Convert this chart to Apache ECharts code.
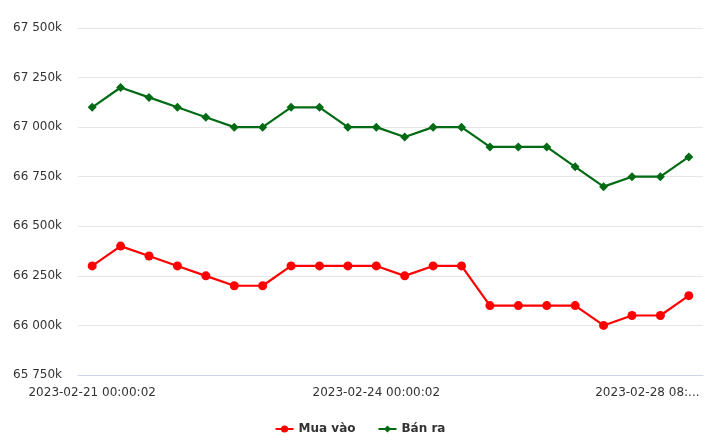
<!DOCTYPE html>
<html><head><meta charset="utf-8">
<script src="https://cdn.jsdelivr.net/npm/echarts@6/dist/echarts.min.js"></script>
<style>html,body{margin:0;padding:0;background:#fff}#c{width:720px;height:448px}</style>
</head><body><div id="c"></div>
<script>
var categories = [
  "2023-02-21 00:00:02","2023-02-21 08:30:02","2023-02-21 15:00:02",
  "2023-02-22 00:00:02","2023-02-22 08:30:02","2023-02-22 15:00:02",
  "2023-02-23 00:00:02","2023-02-23 08:30:02","2023-02-23 15:00:02",
  "2023-02-23 16:30:02","2023-02-24 00:00:02","2023-02-24 08:30:02",
  "2023-02-24 15:00:02","2023-02-25 00:00:02","2023-02-25 08:30:02",
  "2023-02-26 00:00:02","2023-02-27 00:00:02","2023-02-27 08:30:02",
  "2023-02-27 15:00:02","2023-02-28 00:00:02","2023-02-28 08:30:02",
  "2023-02-28 15:00:02"
];
// values in thousands VND
var muaVao = [66300,66400,66350,66300,66250,66200,66200,66300,66300,66300,66300,66250,66300,66300,66100,66100,66100,66100,66000,66050,66050,66150];
var banRa  = [67100,67200,67150,67100,67050,67000,67000,67100,67100,67000,67000,66950,67000,67000,66900,66900,66900,66800,66700,66750,66750,66850];
var seriesNames = ["Mua vào","Bán ra"];

function fmt(v){
  var s = String(Math.round(v));
  return s.replace(/\B(?=(\d{3})+(?!\d))/g, " ") + "k";
}
var chart = echarts.init(document.getElementById('c'));
chart.setOption({
  animation:false,
  textStyle:{fontFamily:'DejaVu Sans'},
  grid:{left:78,right:17,top:28,bottom:73,containLabel:false,outerBoundsMode:'none'},
  legend:{
    bottom:8,left:'center',itemWidth:18,itemHeight:9,itemGap:22,
    textStyle:{fontSize:12,fontWeight:'bold',color:'#333',fontFamily:'DejaVu Sans'},
    data:seriesNames
  },
  xAxis:{
    type:'category',data:categories,boundaryGap:true,
    axisLine:{lineStyle:{color:'#ccd6eb',width:1}},
    axisTick:{show:false},
    axisLabel:{interval:function(i){return i % 10 === 0;},color:'#333',fontSize:12,margin:12,
      formatter:function(v,i){ return (i >= categories.length-2) ? '{r|' + v.slice(0,13)+':...}' : v; },
      rich:{r:{color:'#333',fontSize:12,fontFamily:'DejaVu Sans',padding:[0,26,0,0]}}}
  },
  yAxis:{
    type:'value',min:65750,max:67500,interval:250,
    axisLine:{show:false},axisTick:{show:false},
    splitLine:{lineStyle:{color:'#e6e6e6',width:1}},
    axisLabel:{color:'#333',fontSize:12,margin:16,formatter:fmt}
  },
  series:[
    {name:seriesNames[0],type:'line',data:muaVao,symbol:'circle',symbolSize:9,
     itemStyle:{color:'#ff0000'},lineStyle:{width:2.2,color:'#ff0000'}},
    {name:seriesNames[1],type:'line',data:banRa,symbol:'diamond',symbolSize:9,
     itemStyle:{color:'#006b14'},lineStyle:{width:2.2,color:'#006b14'}}
  ]
});
</script></body></html>
